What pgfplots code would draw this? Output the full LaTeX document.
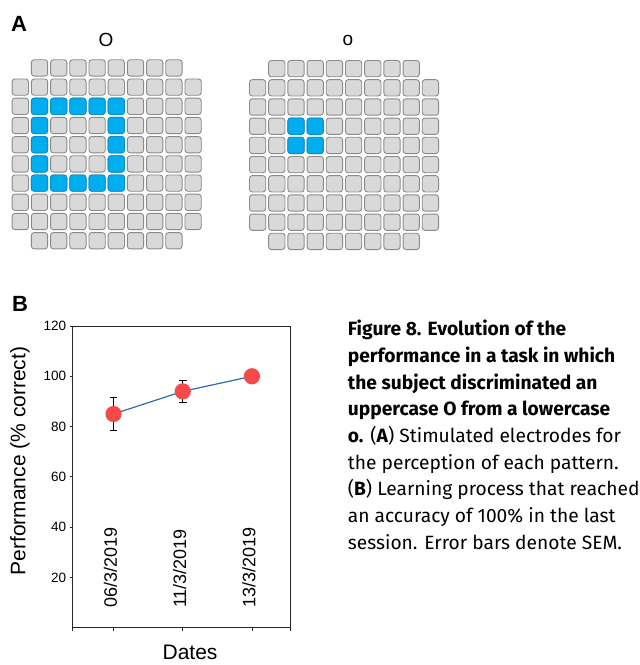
\documentclass[border=0pt]{standalone}
\usepackage{fontspec}
\setmainfont{Liberation Sans}
\newfontfamily\capfont{Fira Sans}
\usepackage{pgfplots}
\usepackage{pgfplotstable}
\pgfplotsset{compat=1.18}

\definecolor{cellfill}{HTML}{D9D9D9}
\definecolor{celledge}{HTML}{8A8A8A}
\definecolor{cellblue}{HTML}{00AEEF}
\definecolor{blueedge}{HTML}{0093CC}
\definecolor{ptred}{HTML}{F44A4A}
\definecolor{lineblue}{HTML}{2E6AAE}

% rounded square electrode
\pgfdeclareplotmark{cell}{%
  \pgfsetcornersarced{\pgfqpoint{2.8pt}{2.8pt}}%
  \pgfpathmoveto{\pgfqpoint{-\pgfplotmarksize}{0pt}}%
  \pgfpathlineto{\pgfqpoint{-\pgfplotmarksize}{-\pgfplotmarksize}}%
  \pgfpathlineto{\pgfqpoint{\pgfplotmarksize}{-\pgfplotmarksize}}%
  \pgfpathlineto{\pgfqpoint{\pgfplotmarksize}{\pgfplotmarksize}}%
  \pgfpathlineto{\pgfqpoint{-\pgfplotmarksize}{\pgfplotmarksize}}%
  \pgfpathlineto{\pgfqpoint{-\pgfplotmarksize}{0pt}}%
  \pgfpathclose
  \pgfusepath{fill,stroke}%
}

% electrode array: 10x10 without the four corners
\pgfplotstableread[row sep=\\]{
x y\\
1 0\\ 2 0\\ 3 0\\ 4 0\\ 5 0\\ 6 0\\ 7 0\\ 8 0\\
0 1\\ 1 1\\ 2 1\\ 3 1\\ 4 1\\ 5 1\\ 6 1\\ 7 1\\ 8 1\\ 9 1\\
0 2\\ 1 2\\ 2 2\\ 3 2\\ 4 2\\ 5 2\\ 6 2\\ 7 2\\ 8 2\\ 9 2\\
0 3\\ 1 3\\ 2 3\\ 3 3\\ 4 3\\ 5 3\\ 6 3\\ 7 3\\ 8 3\\ 9 3\\
0 4\\ 1 4\\ 2 4\\ 3 4\\ 4 4\\ 5 4\\ 6 4\\ 7 4\\ 8 4\\ 9 4\\
0 5\\ 1 5\\ 2 5\\ 3 5\\ 4 5\\ 5 5\\ 6 5\\ 7 5\\ 8 5\\ 9 5\\
0 6\\ 1 6\\ 2 6\\ 3 6\\ 4 6\\ 5 6\\ 6 6\\ 7 6\\ 8 6\\ 9 6\\
0 7\\ 1 7\\ 2 7\\ 3 7\\ 4 7\\ 5 7\\ 6 7\\ 7 7\\ 8 7\\ 9 7\\
0 8\\ 1 8\\ 2 8\\ 3 8\\ 4 8\\ 5 8\\ 6 8\\ 7 8\\ 8 8\\ 9 8\\
1 9\\ 2 9\\ 3 9\\ 4 9\\ 5 9\\ 6 9\\ 7 9\\ 8 9\\
}\cells

% stimulated electrodes, uppercase O
\pgfplotstableread[row sep=\\]{
x y\\
1 2\\ 2 2\\ 3 2\\ 4 2\\ 5 2\\
1 3\\ 5 3\\
1 4\\ 5 4\\
1 5\\ 5 5\\
1 6\\ 2 6\\ 3 6\\ 4 6\\ 5 6\\
}\bigO

% stimulated electrodes, lowercase o
\pgfplotstableread[row sep=\\]{
x y\\
2 3\\ 3 3\\
2 4\\ 3 4\\
}\smallo

\pgfplotstableread{
x y e
1 85 6.5
2 94 4.5
3 100 0
}\perf

\pgfplotsset{
  grid axis/.style={
    anchor=north west, scale only axis,
    width=192pt, height=192pt,
    xmin=-0.5, xmax=9.5, ymin=-0.5, ymax=9.5,
    y dir=reverse, axis lines=none, clip=false,
  },
  gray cells/.style={only marks, mark=cell, mark size=8.15pt, line width=0.9pt,
    draw=celledge, mark options={fill=cellfill}},
  blue cells/.style={only marks, mark=cell, mark size=8.15pt, line width=0.9pt,
    draw=blueedge, mark options={fill=cellblue}},
}

\begin{document}
\begin{tikzpicture}
\path[use as bounding box] (0,0) rectangle (640pt,-665pt);

\node[font=\fontsize{22}{26}\selectfont\bfseries, anchor=base] at (19pt,-31pt) {A};
\node[font=\fontsize{22}{26}\selectfont\bfseries, anchor=base] at (20pt,-311.5pt) {B};
\node[font=\fontsize{19}{22}\selectfont, anchor=base] at (106pt,-46.5pt) {O};
\node[font=\fontsize{19}{22}\selectfont, anchor=base] at (348pt,-45.5pt) {o};

\begin{axis}[grid axis, at={(10.7pt,-58.3pt)}]
\addplot[gray cells] table {\cells};
\addplot[blue cells] table {\bigO};
\end{axis}

\begin{axis}[grid axis, at={(248pt,-59pt)}]
\addplot[gray cells] table {\cells};
\addplot[blue cells] table {\smallo};
\end{axis}

\begin{axis}[
  at={(72.7pt,-627.7pt)}, anchor=south west,
  scale only axis, width=217.3pt, height=301.7pt,
  xmin=0.41, xmax=3.55, ymin=0, ymax=120,
  xtick={0.41,1,2,3,3.55}, xticklabels={},
  ytick={20,40,60,80,100,120},
  tick align=outside, xtick pos=bottom, ytick pos=left,
  major tick length=3pt,
  axis line style={line width=0.8pt, black!85},
  tick style={line width=0.8pt, black!85},
  ticklabel style={font=\fontsize{13.5}{16}\selectfont},
  /pgf/number format/assume math mode=true,
  xlabel={Dates}, ylabel={Performance (\% correct)},
  every axis x label/.style={at={(axis description cs:0.54,-0.0805)}, anchor=center,
    font=\fontsize{21}{24}\selectfont},
  every axis y label/.style={at={(axis description cs:-0.2425,0.5525)}, rotate=90, anchor=center,
    font=\fontsize{21}{24}\selectfont},
  clip=false,
]
\addplot[draw=none, forget plot,
  error bars/.cd, y dir=both, y explicit,
  error bar style={black, line width=1.1pt},
  error mark options={black, rotate=90, mark size=3.8pt, line width=1.1pt}]
  table[x=x, y=y, y error=e] {\perf};
\addplot[lineblue, line width=1.2pt, mark=*, mark size=7.5pt,
  mark options={draw=ptred, fill=ptred}]
  table[x=x, y=y] {\perf};
\node[rotate=90, anchor=west, inner sep=0pt, font=\fontsize{18}{21}\selectfont]
  at ([xshift=-3pt]axis cs:1,7.8) {06/3/2019};
\node[rotate=90, anchor=west, inner sep=0pt, font=\fontsize{18}{21}\selectfont]
  at ([xshift=-3pt]axis cs:2,7.8) {11/3/2019};
\node[rotate=90, anchor=west, inner sep=0pt, font=\fontsize{18}{21}\selectfont]
  at ([xshift=-3pt]axis cs:3,7.8) {13/3/2019};
\end{axis}

\begin{scope}[font=\capfont\fontsize{19.2}{27}\selectfont]
\node[anchor=base west, inner sep=0pt] at (347.7pt,-335.7pt) {\bfseries Figure 8. Evolution of the};
\node[anchor=base west, inner sep=0pt] at (347.7pt,-362.4pt) {\bfseries performance in a task in which};
\node[anchor=base west, inner sep=0pt] at (347.7pt,-389.1pt) {\bfseries the subject discriminated an};
\node[anchor=base west, inner sep=0pt] at (347.7pt,-415.8pt) {\bfseries uppercase O from a lowercase};
\node[anchor=base west, inner sep=0pt] at (347.7pt,-442.5pt) {\textbf{o.} (\textbf{A}) Stimulated electrodes for};
\node[anchor=base west, inner sep=0pt] at (347.7pt,-469.2pt) {the perception of each pattern.};
\node[anchor=base west, inner sep=0pt] at (347.7pt,-495.9pt) {(\textbf{B}) Learning process that reached};
\node[anchor=base west, inner sep=0pt] at (347.7pt,-522.6pt) {an accuracy of 100\% in the last};
\node[anchor=base west, inner sep=0pt] at (347.7pt,-549.3pt) {session. Error bars denote SEM.};
\end{scope}
\end{tikzpicture}
\end{document}
